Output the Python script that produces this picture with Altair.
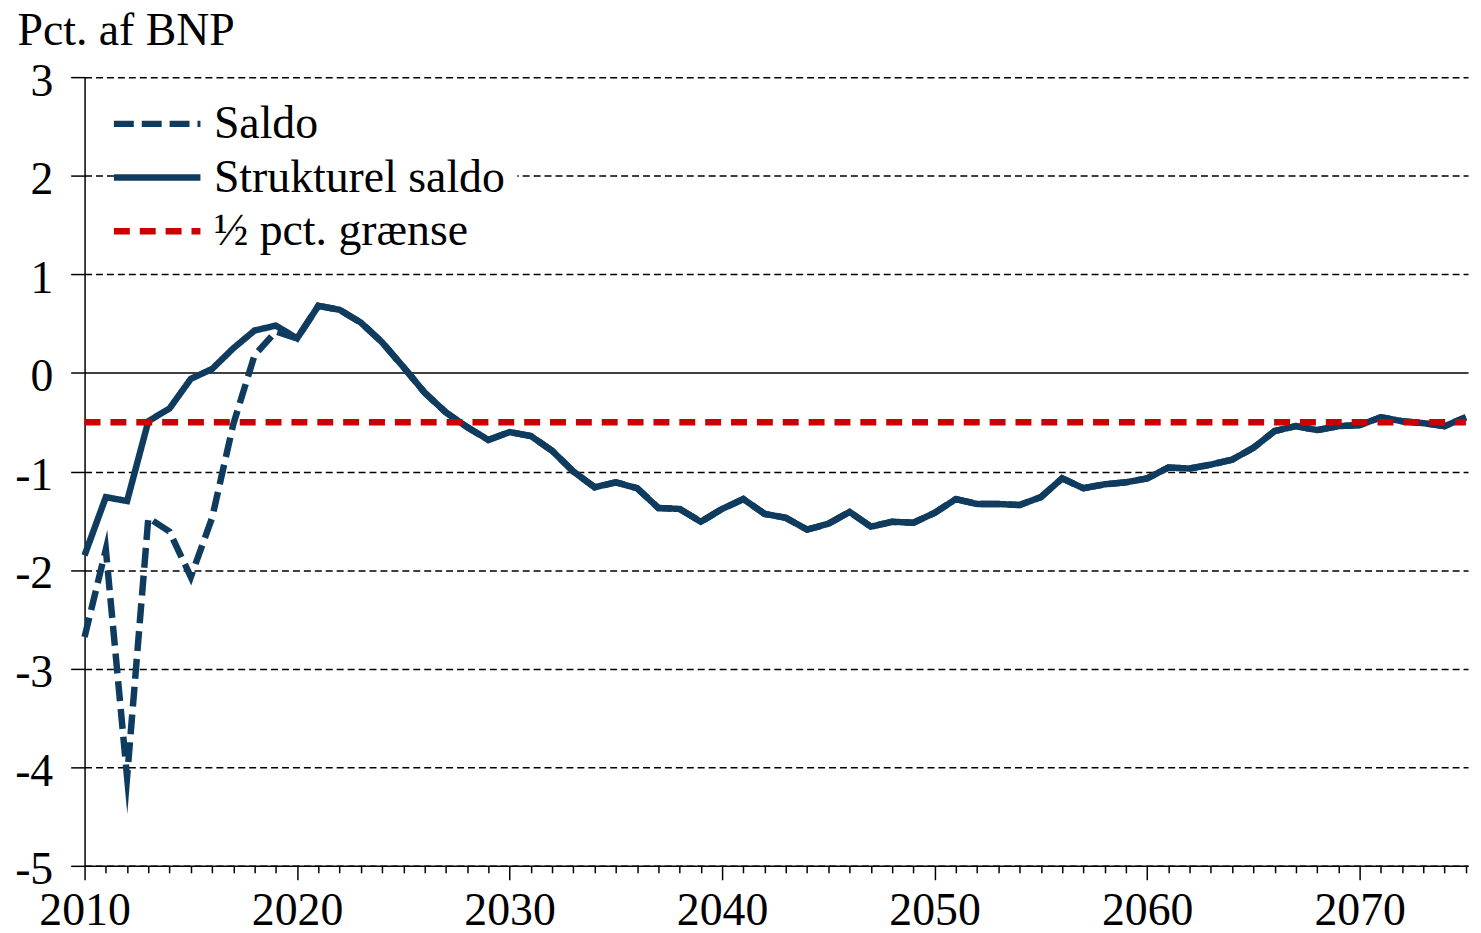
import altair as alt
import pandas as pd

years = list(range(2010, 2076))

strukturel = [
    -1.85, -1.26, -1.30, -0.49, -0.36, -0.06, 0.04, 0.25, 0.43, 0.48,
    0.35, 0.68, 0.64, 0.51, 0.31, 0.06, -0.20, -0.40, -0.55, -0.68,
    -0.60, -0.64, -0.79, -1.00, -1.16, -1.11, -1.17, -1.37, -1.38, -1.51,
    -1.38, -1.28, -1.43, -1.47, -1.59, -1.53, -1.41, -1.56, -1.51, -1.52,
    -1.42, -1.28, -1.33, -1.33, -1.34, -1.26, -1.07, -1.17, -1.13, -1.11,
    -1.07, -0.96, -0.97, -0.93, -0.88, -0.76, -0.59, -0.54, -0.58, -0.54,
    -0.53, -0.45, -0.49, -0.51, -0.54, -0.45,
]

saldo = [
    -2.68, -1.79, -4.10, -1.47, -1.61, -2.07, -1.47, -0.52, 0.18, 0.42,
    0.35, 0.68, 0.64, 0.51, 0.31, 0.06, -0.20, -0.40, -0.55, -0.68,
    -0.60, -0.64, -0.79, -1.00, -1.16, -1.11, -1.17, -1.37, -1.38, -1.51,
    -1.38, -1.28, -1.43, -1.47, -1.59, -1.53, -1.41, -1.56, -1.51, -1.52,
    -1.42, -1.28, -1.33, -1.33, -1.34, -1.26, -1.07, -1.17, -1.13, -1.11,
    -1.07, -0.96, -0.97, -0.93, -0.88, -0.76, -0.59, -0.54, -0.58, -0.54,
    -0.53, -0.45, -0.49, -0.51, -0.54, -0.45,
]

graense_years = [2010, 2075]
graense_values = [-0.5, -0.5]

series_names = ["Saldo", "Strukturel saldo", "½ pct. grænse"]
y_ticks = list(range(-5, 4))

BLUE = "#0f3b5f"
RED = "#cc0000"
FONT = "Liberation Serif"

df_saldo = pd.DataFrame({"year": years, "value": saldo, "series": series_names[0]})
df_struct = pd.DataFrame({"year": years, "value": strukturel, "series": series_names[1]})
df_red = pd.DataFrame({"year": graense_years, "value": graense_values, "series": series_names[2]})

legend = alt.Legend(
    title=None,
    orient="none",
    legendX=38,
    legendY=12,
    symbolType="M-3,0H3",
    symbolSize=841,
    labelFont=FONT,
    labelFontSize=46,
    labelColor="black",
    labelLimit=600,
    fillColor="white",
    padding=12,
    rowPadding=8,
    labelOffset=34,
)

x_enc = alt.X(
    "year:Q",
    scale=alt.Scale(domain=[2010, 2075.1], nice=False, zero=False),
    axis=alt.Axis(
        values=years,
        labelExpr="datum.value % 10 === 0 ? datum.label : ''",
        format="d",
        tickSize={"condition": {"test": "datum.value % 10 === 0", "value": 14}, "value": 7},
        tickColor="black",
        tickWidth=1.5,
        domainColor="black",
        domainWidth=1.5,
        grid=False,
        title=None,
        labelFont=FONT,
        labelFontSize=46,
        labelColor="black",
        labelPadding=9,
        labelFlush=False,
        labelOverlap=False,
    ),
)

y_enc = alt.Y(
    "value:Q",
    scale=alt.Scale(domain=[-5, 3], nice=False, zero=False),
    axis=alt.Axis(
        values=y_ticks,
        labelExpr="datum.value + ''",
        title="Pct. af BNP",
        titleAngle=0,
        titleAlign="left",
        titleBaseline="alphabetic",
        titleX=-68,
        titleY=-33,
        titleFont=FONT,
        titleFontSize=46,
        titleFontWeight="normal",
        titleColor="black",
        labelFont=FONT,
        labelFontSize=46,
        labelColor="black",
        labelPadding=18,
        labelOffset=4,
        tickSize=14,
        tickColor="black",
        tickWidth=1.5,
        domainColor="black",
        domainWidth=1.5,
        grid=True,
        gridColor="black",
        gridWidth=1.5,
        gridDash={"condition": {"test": "datum.value === 0", "value": [1, 0]}, "value": [7, 4]},
    ),
)

color_enc = alt.Color(
    "series:N",
    scale=alt.Scale(domain=series_names, range=[BLUE, BLUE, RED]),
    legend=legend,
)
dash_enc = alt.StrokeDash(
    "series:N",
    scale=alt.Scale(domain=series_names, range=[[20, 8], [1, 0], [16, 10]]),
    legend=legend,
)
width_enc = alt.StrokeWidth(
    "series:N",
    scale=alt.Scale(domain=series_names, range=[6.5, 6.5, 2.6]),
    legend=legend,
)

def line_layer(df, miter=None):
    kwargs = {}
    if miter is not None:
        kwargs["strokeMiterLimit"] = miter
    return alt.Chart(df).mark_line(strokeJoin="miter", **kwargs).encode(
        x=x_enc, y=y_enc, color=color_enc, strokeDash=dash_enc, strokeWidth=width_enc
    )

saldo_layer = line_layer(df_saldo, miter=12)
struct_layer = line_layer(df_struct)
red_layer = line_layer(df_red)

chart = (
    alt.layer(saldo_layer, struct_layer, red_layer)
    .properties(
        width=1391,
        height=793,
        autosize=alt.AutoSizeParams(type="none"),
        padding={"left": 77, "top": 67, "right": 5, "bottom": 60},
        background="white",
    )
    .configure_view(stroke=None)
)

chart.save("out.html", embed_options={"renderer": "svg", "actions": False})
